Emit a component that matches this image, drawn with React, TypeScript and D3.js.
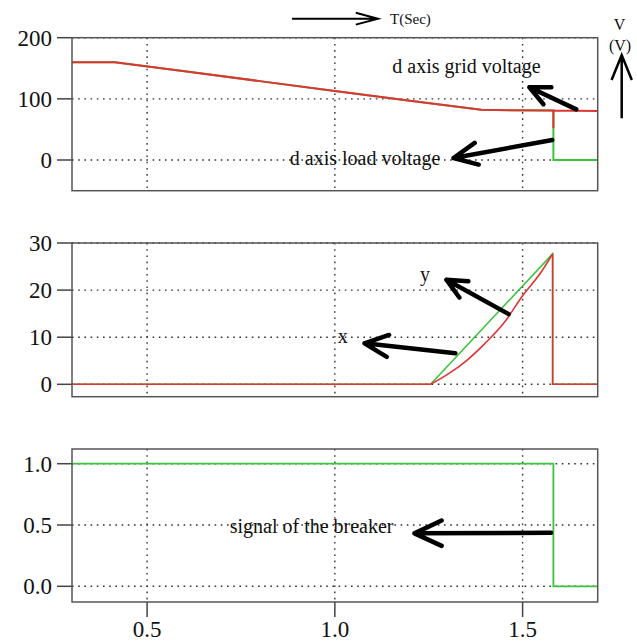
import React from "react";
import * as d3 from "d3";

// time axis
const timeDomain = [0.3, 1.7];
const timeTicks = [0.5, 1.0, 1.5];

// panel 1: d axis voltages
const gridTime = [0.3, 0.414, 0.6, 0.8, 1.0, 1.2, 1.39, 1.582, 1.582, 1.582, 1.7];
const gridVoltage = [160, 160, 145, 129, 113, 97, 82, 80.8, 52, 80.8, 80];
const loadTime = [0.3, 0.414, 0.6, 0.8, 1.0, 1.2, 1.39, 1.582, 1.582, 1.7];
const loadVoltage = [160, 160, 145, 129, 113, 97, 82, 80.8, 0, 0];
const voltTicks = [0, 100, 200];

// panel 2: x / y
const yTime = [0.3, 1.255, 1.58, 1.58, 1.7];
const yValues = [0, 0, 27.7, 0, 0];
const xTime = [0.3, 1.255, 1.3, 1.35, 1.4, 1.45, 1.5, 1.55, 1.58, 1.58, 1.7];
const xValues = [0, 0, 2.1, 5.0, 8.7, 13.0, 18.8, 23.9, 27.7, 0, 0];
const xyTicks = [0, 10, 20, 30];

// panel 3: breaker signal
const breakerTime = [0.3, 1.582, 1.582, 1.7];
const breakerSignal = [1, 1, 0, 0];
const signalTicks = [0, 0.5, 1.0];

const RED = "#e03434";
const GREEN = "#3cc43c";
const FONT = "'Liberation Serif', 'Times New Roman', serif";

const left = 72;
const right = 597.7;

const x = d3.scaleLinear().domain(timeDomain).range([left, right]);

const panels = [
  { top: 37.7, bottom: 190.7, domain: [-50.2, 200], ticks: voltTicks, fmt: (d: number) => String(d) },
  { top: 243, bottom: 396.7, domain: [-2.63, 30], ticks: xyTicks, fmt: (d: number) => String(d) },
  { top: 449, bottom: 602, domain: [-0.128, 1.12], ticks: signalTicks, fmt: d3.format(".1f") },
];

const yScales = panels.map((p) => d3.scaleLinear().domain(p.domain).range([p.bottom, p.top]));

// smooth: index range drawn with a monotone curve, rest is straight
const series = [
  { panel: 0, t: loadTime, v: loadVoltage, color: GREEN, w: 2 },
  { panel: 0, t: gridTime, v: gridVoltage, color: RED, w: 2 },
  { panel: 1, t: yTime, v: yValues, color: GREEN, w: 1.6 },
  { panel: 1, t: xTime, v: xValues, color: RED, w: 1.6, smooth: [1, 8] },
  { panel: 2, t: breakerTime, v: breakerSignal, color: GREEN, w: 1.8 },
];

// annotations in data coordinates (panel, t, value)
const labels = [
  { panel: 0, t: 1.153, v: 142.6, text: "d axis grid voltage" },
  { panel: 0, t: 0.88, v: -8.2, text: "d axis load voltage" },
  { panel: 1, t: 1.227, v: 22.0, text: "y" },
  { panel: 1, t: 1.008, v: 8.7, text: "x" },
  { panel: 2, t: 0.72, v: 0.432, text: "signal of the breaker" },
];

const arrows = [
  { panel: 0, from: [1.643, 82.8], to: [1.518, 118.9], len: 22 },
  { panel: 0, from: [1.579, 32.8], to: [1.316, 3.3], len: 26 },
  { panel: 1, from: [1.463, 14.9], to: [1.297, 22.2], len: 22 },
  { panel: 1, from: [1.321, 6.6], to: [1.079, 8.7], len: 26 },
  { panel: 2, from: [1.576, 0.437], to: [1.212, 0.432], len: 30 },
];

function arrowPath(x1: number, y1: number, x2: number, y2: number, len: number, ang: number) {
  const dx = x1 - x2;
  const dy = y1 - y2;
  const n = Math.hypot(dx, dy);
  const ux = dx / n;
  const uy = dy / n;
  const rot = (a: number) => [
    x2 + len * (ux * Math.cos(a) - uy * Math.sin(a)),
    y2 + len * (ux * Math.sin(a) + uy * Math.cos(a)),
  ];
  const b1 = rot(ang);
  const b2 = rot(-ang);
  return `M${x1},${y1}L${x2},${y2}M${b1[0]},${b1[1]}L${x2},${y2}L${b2[0]},${b2[1]}`;
}

export default function App() {
  const rad = (25 * Math.PI) / 180;
  return (
    <svg
      width={637}
      height={642}
      style={{ position: "absolute", left: 0, top: 0, background: "#fff" }}
      fontFamily={FONT}
    >
      <rect width={637} height={642} fill="#fff" />
      {panels.map((p, i) => {
        const y = yScales[i];
        return (
          <g key={i}>
            {/* grid */}
            {timeTicks.map((t) => (
              <line key={"v" + t} x1={x(t)} x2={x(t)} y1={p.top} y2={p.bottom}
                stroke="#333" strokeWidth={1.4} strokeDasharray="1.6,4.6" />
            ))}
            {p.ticks.map((d) => (
              <line key={"h" + d} x1={left} x2={right} y1={y(d)} y2={y(d)}
                stroke="#333" strokeWidth={1.4} strokeDasharray="1.6,4.6" />
            ))}
            {/* y ticks */}
            {p.ticks.map((d) => (
              <g key={"t" + d}>
                <line x1={57} x2={left} y1={y(d)} y2={y(d)} stroke="#444" strokeWidth={1.5} />
                <text x={52} y={y(d)} dy="0.34em" textAnchor="end" fontSize={23} fill="#111">
                  {p.fmt(d)}
                </text>
              </g>
            ))}
          </g>
        );
      })}
      {series.map((s, i) => {
        const y = yScales[s.panel];
        const pts = s.v.map((v, j) => [x(s.t[j]), y(v)] as [number, number]);
        const straight = d3.line();
        if (!s.smooth) {
          return (
            <path key={i} d={straight(pts) || ""} fill="none" stroke={s.color}
              strokeWidth={s.w} />
          );
        }
        const [a, b] = s.smooth;
        const curved = d3.line().curve(d3.curveMonotoneX);
        const d =
          (straight(pts.slice(0, a + 1)) || "") +
          (curved(pts.slice(a, b + 1)) || "") +
          (straight(pts.slice(b)) || "");
        return (
          <path key={i} d={d} fill="none" stroke={s.color} strokeWidth={s.w} />
        );
      })}
      {panels.map((p, i) => (
        <rect key={"b" + i} x={left} y={p.top} width={right - left} height={p.bottom - p.top}
          fill="none" stroke="#555" strokeWidth={1.5} />
      ))}
      {/* x ticks on bottom panel */}
      {timeTicks.map((t) => (
        <g key={"xt" + t}>
          <line x1={x(t)} x2={x(t)} y1={602} y2={617} stroke="#444" strokeWidth={1.5} />
          <text x={x(t)} y={637} textAnchor="middle" fontSize={23} fill="#111">
            {d3.format(".1f")(t)}
          </text>
        </g>
      ))}
      {/* annotations */}
      {labels.map((l, i) => (
        <text key={"l" + i} x={x(l.t)} y={yScales[l.panel](l.v)} fontSize={20} fill="#111">
          {l.text}
        </text>
      ))}
      {arrows.map((a, i) => {
        const y = yScales[a.panel];
        return (
          <path key={"a" + i}
            d={arrowPath(x(a.from[0]), y(a.from[1]), x(a.to[0]), y(a.to[1]), a.len, rad)}
            fill="none" stroke="#000" strokeWidth={4.5} strokeLinecap="round" strokeLinejoin="round" />
        );
      })}
      {/* axis direction hints */}
      <path d={arrowPath(292, 18.7, 378, 18.7, 23, (15 * Math.PI) / 180)} fill="none"
        stroke="#000" strokeWidth={2} />
      <text x={390} y={23.5} fontSize={15} fill="#111">T(Sec)</text>
      <text x={619.5} y={30} fontSize={16} textAnchor="middle" fill="#111">V</text>
      <text x={620} y={51} fontSize={16} textAnchor="middle" fill="#111">(V)</text>
      <path d={arrowPath(621.7, 118.3, 621.7, 55, 27, (22 * Math.PI) / 180)} fill="none"
        stroke="#000" strokeWidth={2.5} />
    </svg>
  );
}
